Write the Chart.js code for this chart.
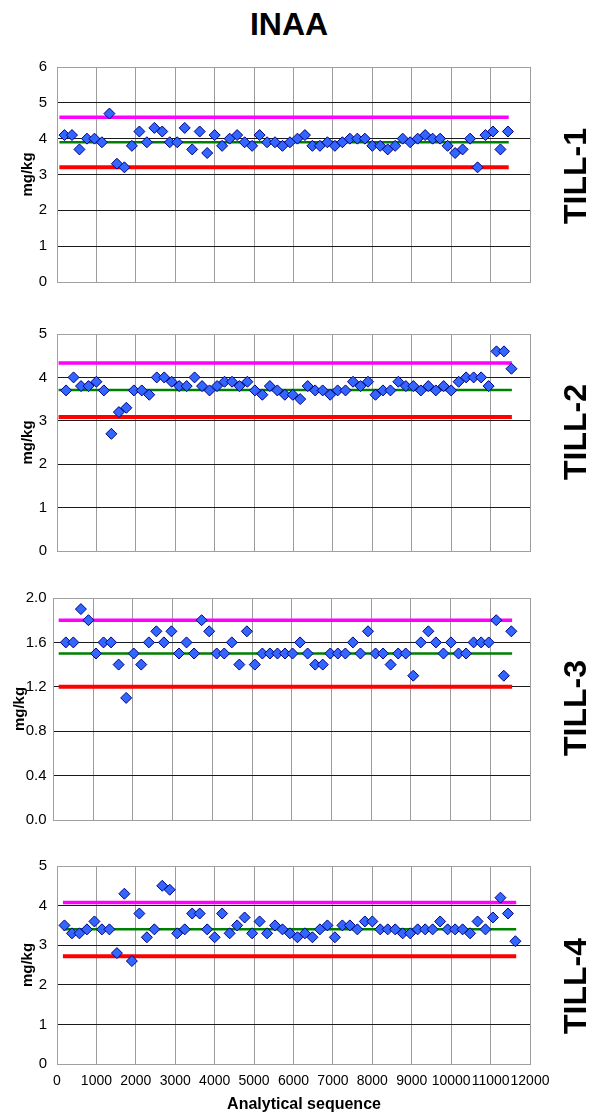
<!DOCTYPE html>
<html>
<head>
<meta charset="utf-8">
<script src="https://cdn.jsdelivr.net/npm/chart.js@4.4.0/dist/chart.umd.min.js"></script>
<style>
  html, body { margin: 0; padding: 0; background: #fff; }
  #page {
    position: relative; width: 597px; height: 1118px; overflow: hidden;
    font-family: 'Liberation Sans', Arial, sans-serif; color: #000;
  }
  #page canvas { position: absolute; left: 0; }
  .lbl { position: absolute; font-weight: bold; white-space: nowrap; line-height: 1; }
  .title { font-size: 32px; left: 289px; top: 8px; transform: translateX(-50%); }
  .xtitle { font-size: 16px; left: 304px; top: 1096px; transform: translateX(-50%); }
  .side { font-size: 32px; left: 575px; transform: translate(-50%, -50%) rotate(-90deg); }
</style>
</head>
<body>
<div id="page">
  <div class="lbl title">INAA</div>
  <canvas id="c0"></canvas>
  <canvas id="c1"></canvas>
  <canvas id="c2"></canvas>
  <canvas id="c3"></canvas>
  <div class="lbl xtitle">Analytical sequence</div>
</div>

<script>
// ---- data ----
const panelNames = ['TILL-1', 'TILL-2', 'TILL-3', 'TILL-4'];

// analytical sequence numbers (x) — the runs are offset slightly
const seqA = [190, 380, 570, 760, 950, 1140, 1330, 1520, 1710, 1900,
  2090, 2280, 2470, 2670, 2860, 3050, 3240, 3430, 3620, 3810,
  4000, 4190, 4380, 4570, 4760, 4950, 5140, 5330, 5530, 5720,
  5910, 6100, 6290, 6480, 6670, 6860, 7050, 7240, 7430, 7620,
  7810, 8000, 8200, 8390, 8580, 8770, 8960, 9150, 9340, 9530,
  9720, 9910, 10100, 10290, 10480, 10670, 10870, 11060, 11250, 11440,
  11630];
const seqB = [230, 420, 610, 800, 1000, 1190, 1380, 1570, 1760, 1950,
  2150, 2340, 2530, 2720, 2910, 3100, 3290, 3490, 3680, 3870,
  4060, 4250, 4440, 4630, 4830, 5020, 5210, 5400, 5590, 5780,
  5980, 6170, 6360, 6550, 6740, 6930, 7120, 7320, 7510, 7700,
  7890, 8080, 8270, 8460, 8660, 8850, 9040, 9230, 9420, 9610,
  9810, 10000, 10190, 10380, 10570, 10760, 10950, 11150, 11340, 11530];
const seqC = [310, 500, 690, 880, 1070, 1260, 1450, 1640, 1830, 2020,
  2210, 2400, 2590, 2780, 2970, 3160, 3350, 3540, 3730, 3920,
  4110, 4300, 4490, 4680, 4870, 5070, 5260, 5450, 5640, 5830,
  6020, 6210, 6400, 6590, 6780, 6970, 7160, 7350, 7540, 7730,
  7920, 8110, 8300, 8490, 8680, 8870, 9060, 9250, 9440, 9630,
  9820, 10010, 10200, 10390, 10580, 10770, 10960, 11150, 11340, 11530];

const till1 = [4.1, 4.1, 3.7, 4.0, 4.0, 3.9, 4.7, 3.3, 3.2, 3.8,
  4.2, 3.9, 4.3, 4.2, 3.9, 3.9, 4.3, 3.7, 4.2, 3.6,
  4.1, 3.8, 4.0, 4.1, 3.9, 3.8, 4.1, 3.9, 3.9, 3.8,
  3.9, 4.0, 4.1, 3.8, 3.8, 3.9, 3.8, 3.9, 4.0, 4.0,
  4.0, 3.8, 3.8, 3.7, 3.8, 4.0, 3.9, 4.0, 4.1, 4.0,
  4.0, 3.8, 3.6, 3.7, 4.0, 3.2, 4.1, 4.2, 3.7, 4.2];
const till2 = [3.7, 4.0, 3.8, 3.8, 3.9, 3.7, 2.7, 3.2, 3.3, 3.7,
  3.7, 3.6, 4.0, 4.0, 3.9, 3.8, 3.8, 4.0, 3.8, 3.7,
  3.8, 3.9, 3.9, 3.8, 3.9, 3.7, 3.6, 3.8, 3.7, 3.6,
  3.6, 3.5, 3.8, 3.7, 3.7, 3.6, 3.7, 3.7, 3.9, 3.8,
  3.9, 3.6, 3.7, 3.7, 3.9, 3.8, 3.8, 3.7, 3.8, 3.7,
  3.8, 3.7, 3.9, 4.0, 4.0, 4.0, 3.8, 4.6, 4.6, 4.2];
const till3 = [1.6, 1.6, 1.9, 1.8, 1.5, 1.6, 1.6, 1.4, 1.1, 1.5,
  1.4, 1.6, 1.7, 1.6, 1.7, 1.5, 1.6, 1.5, 1.8, 1.7,
  1.5, 1.5, 1.6, 1.4, 1.7, 1.4, 1.5, 1.5, 1.5, 1.5,
  1.5, 1.6, 1.5, 1.4, 1.4, 1.5, 1.5, 1.5, 1.6, 1.5,
  1.7, 1.5, 1.5, 1.4, 1.5, 1.5, 1.3, 1.6, 1.7, 1.6,
  1.5, 1.6, 1.5, 1.5, 1.6, 1.6, 1.6, 1.8, 1.3, 1.7];
const till4 = [3.5, 3.3, 3.3, 3.4, 3.6, 3.4, 3.4, 2.8, 4.3, 2.6,
  3.8, 3.2, 3.4, 4.5, 4.4, 3.3, 3.4, 3.8, 3.8, 3.4,
  3.2, 3.8, 3.3, 3.5, 3.7, 3.3, 3.6, 3.3, 3.5, 3.4,
  3.3, 3.2, 3.3, 3.2, 3.4, 3.5, 3.2, 3.5, 3.5, 3.4,
  3.6, 3.6, 3.4, 3.4, 3.4, 3.3, 3.3, 3.4, 3.4, 3.4,
  3.6, 3.4, 3.4, 3.4, 3.3, 3.6, 3.4, 3.7, 4.2, 3.8,
  3.1];

// certified value (green) and tolerance limits (magenta upper, red lower)
const upperLimit = [4.6, 4.33, 1.8, 4.08];
const meanValue = [3.9, 3.71, 1.5, 3.4];
const lowerLimit = [3.2, 3.09, 1.2, 2.72];
const lineStart = [60, 40, 130, 150];
const lineEnd = [11460, 11540, 11550, 11650];

// tick labels
const xTicks = [0, 1000, 2000, 3000, 4000, 5000, 6000, 7000, 8000, 9000, 10000, 11000, 12000];
const yTicks1 = [0, 1, 2, 3, 4, 5, 6];
const yTicks2 = [0, 1, 2, 3, 4, 5];
const yTicks3 = ['0.0', '0.4', '0.8', '1.2', '1.6', '2.0'];
const yTicks4 = [0, 1, 2, 3, 4, 5];

const COLORS = {
  point: '#3366ff',
  pointBorder: '#000080',
  upper: '#ff00ff',
  mean: '#008000',
  lower: '#ff0000',
  gridV: '#9c9c9c',
  gridH: '#1a1a1a',
  edge: '#a0a0a0',
  text: '#000',
};
const FONT = "'Liberation Sans', Arial, sans-serif";

// chart-area placement on the page (px)
const PANELS = [
  { top: 60, bottom: 289, left: 57, tickPad: 10, titlePad: 19, sideY: 176 },
  { top: 327, bottom: 558, left: 57, tickPad: 10, titlePad: 19, sideY: 432 },
  { top: 594, bottom: 824, left: 53.5, tickPad: 7, titlePad: 11, sideY: 708 },
  { top: 859, bottom: 1064, left: 57, tickPad: 10, titlePad: 19, sideY: 986 },
];
const PAD = 12;
const PLOT_RIGHT = 530;
const PAGE_W = 597;
const PAGE_H = 1118;

const seriesX = [seqA, seqB, seqC, seqA];
const seriesY = [till1, till2, till3, till4];
const yTickSets = [yTicks1, yTicks2, yTicks3, yTicks4];

function refLine(i, value, color, width) {
  return {
    type: 'scatter',
    data: [{ x: lineStart[i], y: value }, { x: lineEnd[i], y: value }],
    showLine: true,
    borderColor: color,
    borderWidth: width,
    borderCapStyle: 'butt',
    pointRadius: 0,
    order: 1,
  };
}

function renderPanel(i) {
  const p = PANELS[i];
  const isBottom = i === PANELS.length - 1;
  const canvas = document.getElementById('c' + i);
  const canvasTop = p.top - PAD;
  const canvasH = isBottom ? PAGE_H - canvasTop : (p.bottom - p.top) + PAD * 2;
  canvas.width = PAGE_W;
  canvas.height = canvasH;
  canvas.style.top = canvasTop + 'px';

  const ticks = yTickSets[i].map(Number);
  const yMin = ticks[0];
  const yMax = ticks[ticks.length - 1];

  const points = seriesY[i].map((v, k) => ({ x: seriesX[i][k], y: v }));

  new Chart(canvas, {
    type: 'scatter',
    data: {
      datasets: [
        {
          data: points,
          pointStyle: 'rectRot',
          pointRadius: 5.5,
          backgroundColor: COLORS.point,
          borderColor: COLORS.pointBorder,
          borderWidth: 1,
          order: 0,
        },
        refLine(i, upperLimit[i], COLORS.upper, 3.5),
        refLine(i, meanValue[i], COLORS.mean, 2.5),
        refLine(i, lowerLimit[i], COLORS.lower, 4),
      ],
    },
    options: {
      responsive: false,
      animation: false,
      events: [],
      layout: {
        padding: { top: PAD, bottom: isBottom ? 0 : PAD, left: 0, right: PAGE_W - PLOT_RIGHT },
      },
      plugins: {
        legend: { display: false },
        tooltip: { enabled: false },
      },
      scales: {
        x: {
          type: 'linear',
          min: xTicks[0],
          max: xTicks[xTicks.length - 1],
          afterBuildTicks: (scale) => { scale.ticks = xTicks.map(v => ({ value: v })); },
          afterFit: (scale) => { scale.height = isBottom ? PAGE_H - p.bottom : 0; },
          grid: { color: COLORS.gridV, lineWidth: 1, drawTicks: false },
          border: { color: COLORS.edge, width: 1 },
          ticks: {
            display: isBottom,
            autoSkip: false,
            maxRotation: 0,
            minRotation: 0,
            padding: 9,
            color: COLORS.text,
            font: { family: FONT, size: 14 },
            callback: (v) => String(v),
          },
        },
        y: {
          min: yMin,
          max: yMax,
          afterBuildTicks: (scale) => { scale.ticks = ticks.map(v => ({ value: v })); },
          afterFit: (scale) => { scale.width = p.left; },
          grid: {
            drawTicks: false,
            lineWidth: 1,
            color: (ctx) => (ctx.tick && (ctx.tick.value === yMin || ctx.tick.value === yMax))
              ? COLORS.edge : COLORS.gridH,
          },
          border: { color: COLORS.edge, width: 1 },
          ticks: {
            padding: p.tickPad,
            color: COLORS.text,
            font: { family: FONT, size: 15 },
            callback: (v) => {
              const idx = ticks.findIndex(t => Math.abs(t - v) < 1e-9);
              return idx >= 0 ? String(yTickSets[i][idx]) : '';
            },
          },
          title: {
            display: true,
            text: 'mg/kg',
            color: COLORS.text,
            font: { family: FONT, size: 15, weight: 'bold' },
            padding: { top: p.titlePad, bottom: 0 },
          },
        },
      },
    },
  });

  const side = document.createElement('div');
  side.className = 'lbl side';
  side.style.top = p.sideY + 'px';
  side.textContent = panelNames[i];
  document.getElementById('page').appendChild(side);
}

PANELS.forEach((_, i) => renderPanel(i));
</script>
</body>
</html>
